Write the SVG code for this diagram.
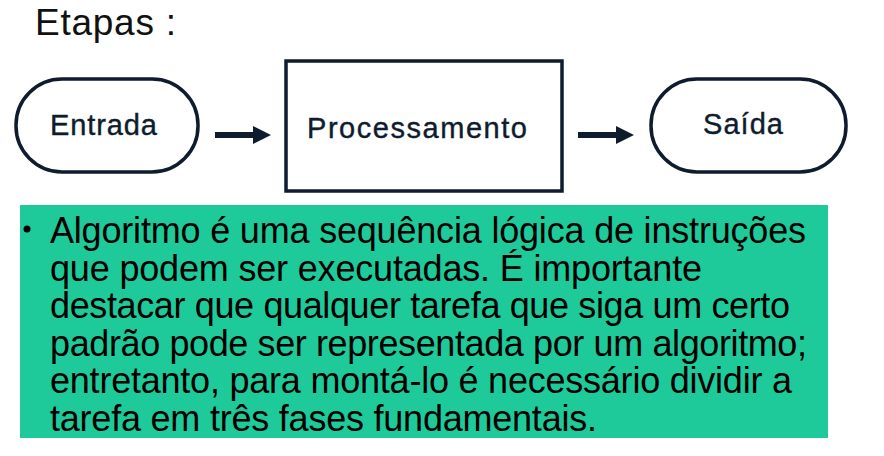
<svg xmlns="http://www.w3.org/2000/svg" width="884" height="456" viewBox="0 0 884 456">
<style>
.node{fill:#fff;stroke:#0e1c2e;stroke-width:3.5}
.lbl{font-family:"Liberation Sans",Arial,sans-serif;font-size:29px;fill:#0e1c2e;text-anchor:middle;stroke:#0e1c2e;stroke-width:0.4}
.body{font-family:"Liberation Sans",Arial,sans-serif;font-size:36px;fill:#000}
.conn{stroke:#0e1c2e;stroke-width:6;fill:none}
</style>
<defs>
<marker id="ah" markerUnits="userSpaceOnUse" markerWidth="20" markerHeight="20" refX="0" refY="9" orient="auto">
<path d="M0,0 L18,9 L0,18 Z" fill="#0e1c2e"/>
</marker>
<clipPath id="boxclip"><rect x="20" y="205" width="808" height="233"/></clipPath>
</defs>
<rect width="884" height="456" fill="#fff"/>
<text x="35" y="35" textLength="141" style="font-family:'Liberation Sans',Arial,sans-serif;font-size:37px;fill:#111">Etapas :</text>
<g id="entrada">
<rect class="node" x="16" y="79" width="182" height="93" rx="46" ry="46"/>
<text class="lbl" x="103.5" y="135" textLength="107">Entrada</text>
</g>
<g id="processamento">
<rect class="node" x="286" y="61" width="276" height="130"/>
<text class="lbl" x="417" y="138" textLength="220">Processamento</text>
</g>
<g id="saida">
<rect class="node" x="651" y="79" width="195" height="93" rx="46" ry="46"/>
<text class="lbl" x="743" y="134" textLength="80">Saída</text>
</g>
<g id="connectors">
<line class="conn" x1="215" y1="135" x2="253" y2="135" marker-end="url(#ah)"/>
<line class="conn" x1="578" y1="135" x2="616" y2="135" marker-end="url(#ah)"/>
</g>
<g id="texto">
<rect x="20" y="205" width="808" height="233" fill="#1fca9a"/>
<g clip-path="url(#boxclip)">
<circle cx="27" cy="229" r="3.5" fill="#000"/>
<text class="body" x="50" y="243" textLength="756">Algoritmo é uma sequência lógica de instruções</text>
<text class="body" x="50" y="281" textLength="652">que podem ser executadas. É importante</text>
<text class="body" x="50" y="318" textLength="740">destacar que qualquer tarefa que siga um certo</text>
<text class="body" x="50" y="356" textLength="757">padrão pode ser representada por um algoritmo;</text>
<text class="body" x="50" y="393" textLength="742">entretanto, para montá-lo é necessário dividir a</text>
<text class="body" x="50" y="431" textLength="547">tarefa em três fases fundamentais.</text>
</g>
</g>
</svg>
